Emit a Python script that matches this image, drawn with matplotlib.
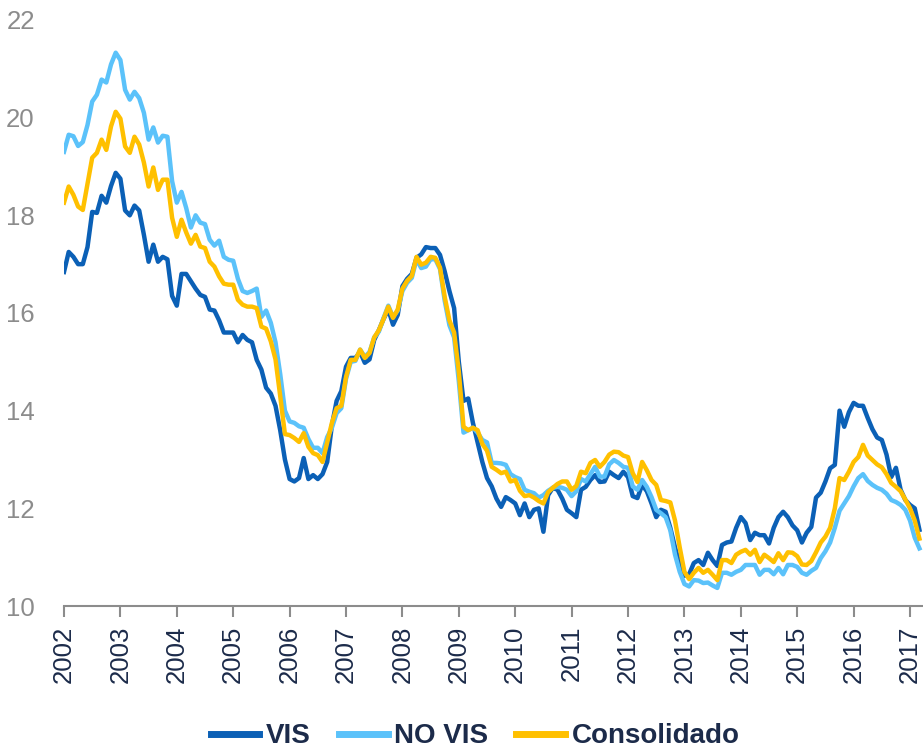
import numpy as np
import matplotlib
matplotlib.use("Agg")
import matplotlib.pyplot as plt
from matplotlib.font_manager import FontProperties

# series, monthly from Jan 2002 to Mar 2017
vis = [
    16.84, 17.25, 17.15, 17.0, 17.0, 17.35, 18.07, 18.05, 18.4, 18.26, 18.6, 18.87,
    18.75, 18.1, 18.0, 18.2, 18.1, 17.6, 17.05, 17.4, 17.05, 17.15, 17.1, 16.35,
    16.15, 16.8, 16.8, 16.65, 16.5, 16.37, 16.33, 16.07, 16.05, 15.85, 15.6, 15.6,
    15.6, 15.4, 15.55, 15.45, 15.4, 15.04, 14.84, 14.47, 14.35, 14.1, 13.6, 13.0,
    12.6, 12.55, 12.62, 13.03, 12.6, 12.68, 12.6, 12.7, 12.95, 13.7, 14.2, 14.4,
    14.9, 15.08, 15.08, 15.2, 14.98, 15.05, 15.45, 15.65, 15.88, 16.07, 15.76, 15.96,
    16.55, 16.7, 16.8, 17.13, 17.2, 17.35, 17.33, 17.33, 17.19, 16.85, 16.45, 16.1,
    15.0, 14.2, 14.25, 13.75, 13.35, 12.95, 12.62, 12.45, 12.2, 12.03, 12.23, 12.17,
    12.1, 11.86, 12.1, 11.82, 11.97, 12.0, 11.52, 12.27, 12.42, 12.38, 12.2, 11.97,
    11.9, 11.82, 12.38, 12.44, 12.58, 12.68, 12.54, 12.55, 12.75, 12.68, 12.62, 12.75,
    12.64, 12.25, 12.21, 12.48, 12.35, 12.1, 11.82, 11.97, 11.93, 11.6, 11.2, 10.85,
    10.62, 10.65, 10.88, 10.94, 10.84, 11.09, 10.94, 10.82, 11.25, 11.3, 11.32, 11.6,
    11.82, 11.7, 11.35, 11.5, 11.45, 11.45, 11.28, 11.6, 11.82, 11.93, 11.82, 11.65,
    11.55, 11.3, 11.5, 11.62, 12.22, 12.32, 12.55, 12.82, 12.89, 14.0, 13.67, 13.97,
    14.16, 14.1, 14.1, 13.85, 13.62, 13.45, 13.4, 13.1, 12.64, 12.83, 12.38, 12.17,
    12.07, 12.0, 11.56,
]
no_vis = [
    19.3, 19.65, 19.62, 19.42, 19.5, 19.85, 20.33, 20.47, 20.78, 20.72, 21.09, 21.33,
    21.18, 20.57, 20.37, 20.53, 20.4, 20.1, 19.55, 19.8, 19.49, 19.63, 19.61, 18.7,
    18.26, 18.48, 18.15, 17.75, 18.0, 17.85, 17.82, 17.5, 17.38, 17.48, 17.15, 17.09,
    17.07, 16.7, 16.45, 16.41, 16.45, 16.5, 15.92, 16.05, 15.8, 15.4, 14.75, 14.0,
    13.78, 13.75, 13.68, 13.65, 13.42, 13.24, 13.24, 13.13, 13.46, 13.65, 13.95, 14.05,
    14.65, 15.0, 15.02, 15.25, 15.1, 15.2, 15.5, 15.62, 15.9, 16.15, 15.92, 16.05,
    16.45, 16.62, 16.72, 17.1, 16.92, 16.95, 17.1, 17.1, 16.9, 16.25, 15.75, 15.5,
    14.6, 13.55, 13.6, 13.65, 13.55, 13.4, 13.35, 12.93, 12.93, 12.92, 12.89, 12.7,
    12.64, 12.6, 12.38, 12.34, 12.31, 12.22, 12.27, 12.36, 12.42, 12.44, 12.42, 12.38,
    12.25, 12.35, 12.6, 12.55, 12.7, 12.85, 12.65, 12.65, 12.9, 12.99, 12.93, 12.85,
    12.83, 12.45, 12.38, 12.58, 12.44, 12.23, 11.97, 11.9, 11.82, 11.55, 11.05, 10.7,
    10.45, 10.4, 10.53, 10.52, 10.47, 10.48, 10.42, 10.37, 10.68, 10.68, 10.64, 10.7,
    10.74, 10.84, 10.84, 10.84, 10.64, 10.74, 10.74, 10.65, 10.78, 10.65, 10.84, 10.84,
    10.8, 10.68, 10.64, 10.72, 10.78, 10.98, 11.12, 11.3, 11.6, 11.95, 12.1, 12.25,
    12.45, 12.62, 12.7, 12.56, 12.48, 12.42, 12.38, 12.3, 12.17, 12.13, 12.07, 11.97,
    11.75, 11.4, 11.18,
]
consolidado = [
    18.26, 18.59, 18.42, 18.18, 18.11, 18.65, 19.18, 19.28, 19.55, 19.34, 19.82, 20.12,
    19.98, 19.41, 19.28, 19.61, 19.45, 19.08, 18.59, 18.98, 18.52, 18.73, 18.73, 17.95,
    17.56, 17.91, 17.65, 17.42, 17.6, 17.36, 17.33, 17.05, 16.95, 16.75, 16.6, 16.58,
    16.58, 16.27, 16.17, 16.13, 16.13, 16.1, 15.72, 15.68, 15.42, 15.05, 14.3, 13.52,
    13.5, 13.44, 13.36, 13.54, 13.26, 13.13, 13.09, 12.95, 13.35, 13.75, 14.05, 14.1,
    14.69, 15.04, 15.04, 15.25, 15.08, 15.18, 15.5, 15.65, 15.88, 16.13, 15.9, 16.07,
    16.5, 16.66, 16.76, 17.15, 16.99, 17.03, 17.15, 17.13, 16.93, 16.33, 15.85, 15.6,
    14.8, 13.67, 13.6, 13.65, 13.6, 13.32, 13.18, 12.85, 12.79, 12.72, 12.75, 12.55,
    12.58, 12.36, 12.25, 12.27, 12.22, 12.15, 12.1, 12.33, 12.42, 12.5, 12.55, 12.55,
    12.38, 12.46, 12.75, 12.72, 12.93, 12.99, 12.85, 12.95, 13.1, 13.16, 13.15, 13.08,
    13.05, 12.72, 12.54, 12.95, 12.78, 12.58, 12.48, 12.17, 12.15, 12.12, 11.75, 11.2,
    10.7, 10.55, 10.68, 10.78, 10.68, 10.74, 10.64, 10.53, 10.94, 10.94, 10.88, 11.05,
    11.11, 11.15, 11.05, 11.15, 10.9, 11.05, 10.98, 10.9, 11.08, 10.94, 11.1, 11.09,
    11.02, 10.85, 10.84, 10.92, 11.1, 11.3, 11.42, 11.6, 12.0, 12.62, 12.58, 12.75,
    12.95, 13.05, 13.3, 13.08, 12.99, 12.9, 12.84, 12.7, 12.52, 12.44, 12.35, 12.18,
    12.0, 11.75, 11.38,
]
years = list(range(2002, 2018))
yticks = [10, 12, 14, 16, 18, 20, 22]

t = 2002 + np.arange(len(vis)) / 12.0

fig = plt.figure(figsize=(9.23, 7.49), dpi=100)
ax = fig.add_axes([64 / 923, 143 / 749, 1 - 64 / 923, 586 / 749])

ax.plot(t, vis, color="#0B60B6", lw=3.2, label="VIS", solid_joinstyle="round")
ax.plot(t, no_vis, color="#5BC2FA", lw=3.2, label="NO VIS", solid_joinstyle="round")
ax.plot(t, consolidado, color="#FFC000", lw=3.2, label="Consolidado", solid_joinstyle="round")

ax.set_xlim(2002, 2017.23)
ax.set_ylim(10, 22)
ax.set_yticks(yticks)
ax.set_xticks(years)

tick_font = FontProperties(family=["Liberation Sans", "DejaVu Sans"], size=18.5)
ax.set_yticklabels([str(v) for v in yticks], fontproperties=tick_font, color="#8C8C8C")
ax.set_xticklabels([str(y) for y in years], fontproperties=tick_font, color="#1C2B4A", rotation=90)

ax.tick_params(axis="y", length=0, pad=21)
ax.tick_params(axis="x", length=8, width=1.5, color="#8C8C8C", pad=6)

for s in ["top", "right", "left"]:
    ax.spines[s].set_visible(False)
ax.spines["bottom"].set_color("#8C8C8C")
ax.spines["bottom"].set_linewidth(1.5)

leg_font = FontProperties(family=["Liberation Sans Narrow", "Liberation Sans", "DejaVu Sans"],
                          weight="bold", size=20)
leg = fig.legend(loc="center", bbox_to_anchor=(0.515, 0.017), ncol=3, frameon=False,
                 prop=leg_font, handlelength=1.75, handletextpad=0.25, columnspacing=1.0,
                 borderpad=0.1)
for txt in leg.get_texts():
    txt.set_color("#1C2B4A")
for ln in leg.get_lines():
    ln.set_linewidth(5)

fig.savefig("out.png", dpi=100)
